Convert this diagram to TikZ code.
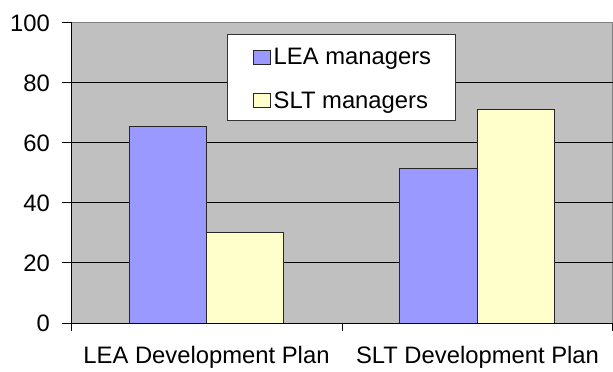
\documentclass[tikz,border=0pt]{standalone}
\usepackage{fontspec}
\setmainfont{Liberation Sans}
\definecolor{plotgray}{HTML}{C0C0C0}
\definecolor{leablue}{HTML}{9999FF}
\definecolor{sltyellow}{HTML}{FFFFCC}
\begin{document}
\begin{tikzpicture}[x=1pt,y=-1pt,
  lbl/.style={font=\fontsize{23.8}{28}\selectfont, inner sep=0pt},
  bar/.style={draw=black!85, line width=0.9pt},
  grid/.style={draw=black, line width=0.9pt},
  axis/.style={draw=black, line width=0.9pt}]
\useasboundingbox (0,0) rectangle (613,372);
% plot area
\fill[plotgray] (71,22) rectangle (613,323);
\draw[draw=black!50, line width=0.9pt] (71,22) -- (612.5,22) -- (612.5,323);
\foreach \yy in {82.2,142.4,202.6,262.8} \draw[grid] (71,\yy) -- (612.5,\yy);
% bars
\filldraw[bar, fill=leablue] (129,126) rectangle (206,323);
\filldraw[bar, fill=sltyellow] (206,232) rectangle (283,323);
\filldraw[bar, fill=leablue] (399,168) rectangle (477,323);
\filldraw[bar, fill=sltyellow] (477,109) rectangle (554,323);
% axes
\draw[axis] (71,22) -- (71,331);
\draw[axis] (62,323) -- (613,323);
\foreach \yy in {22,82.2,142.4,202.6,262.8} \draw[axis] (62,\yy) -- (71,\yy);
\draw[axis] (342,323) -- (342,331);
\draw[axis] (612.5,323) -- (612.5,331);
% y labels
\node[lbl, anchor=east] (y100) at (50,23) {100};
\node[lbl, anchor=east] (y80) at (50,83) {80};
\node[lbl, anchor=east] (y60) at (50,143.2) {60};
\node[lbl, anchor=east] (y40) at (50,203.4) {40};
\node[lbl, anchor=east] (y20) at (50,263.6) {20};
\node[lbl, anchor=east] (y0) at (50,323.8) {0};
% category labels
\node[lbl, anchor=base] (c1) at (206.5,363) {LEA Development Plan};
\node[lbl, anchor=base] (c2) at (477.5,363) {SLT Development Plan};
% legend
\filldraw[draw=black!80, fill=white, line width=0.9pt] (227.5,34) rectangle (455.5,120.5);
\filldraw[draw=black!85, line width=0.8pt, fill=leablue] (253.5,50.5) rectangle (270.5,64.5);
\filldraw[draw=black!85, line width=0.8pt, fill=sltyellow] (253.5,93.5) rectangle (270.5,107.5);
\node[lbl, anchor=base west] (l1) at (273.5,64.5) {LEA managers};
\node[lbl, anchor=base west] (l2) at (273.5,108) {SLT managers};
\end{tikzpicture}
\end{document}
